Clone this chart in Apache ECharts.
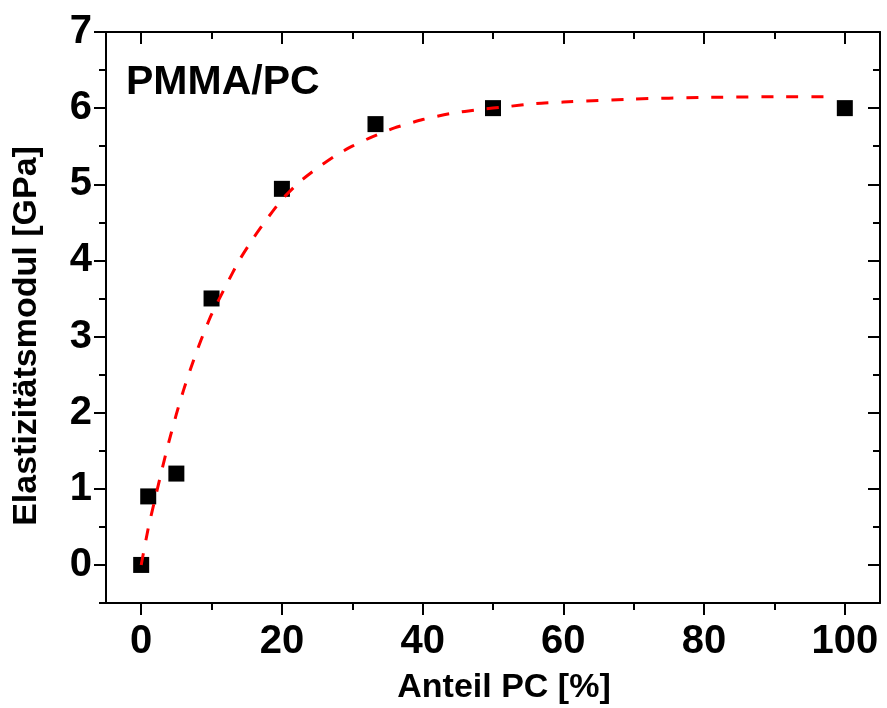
<!DOCTYPE html>
<html>
<head>
<meta charset="utf-8">
<script src="https://cdn.jsdelivr.net/npm/echarts@6/dist/echarts.min.js"></script>
<style>
  html, body { margin: 0; padding: 0; background: #fff; }
  #chart { width: 887px; height: 708px; }
</style>
</head>
<body>
<div id="chart"></div>
<script>
// Measured Young's modulus of PMMA/PC blends
const pcShare = [0, 1, 5, 10, 20, 33.3, 50, 100];
const modulus = [0, 0.9, 1.2, 3.5, 4.94, 5.79, 6.0, 6.0];

// Fitted trend (dashed red curve), sampled along the fit
const fitX = [0, 1, 2, 3, 4, 5, 6, 7, 8, 9, 10, 12, 14, 16, 18, 20, 22.5, 25, 27.5, 30,
              33, 36, 40, 44, 48, 52, 56, 60, 70, 80, 90, 98.2];
const fitY = [0, 0.48, 0.88, 1.27, 1.64, 1.98, 2.29, 2.57, 2.83, 3.07, 3.29, 3.66, 4.01, 4.30,
              4.56, 4.80, 5.03, 5.21, 5.37, 5.50, 5.63, 5.74, 5.85, 5.93, 5.98, 6.02, 6.06, 6.08,
              6.12, 6.14, 6.15, 6.15];

// Tick positions
const xMajor = [0, 20, 40, 60, 80, 100];
const xMinor = [10, 30, 50, 70, 90];
const yMajor = [0, 1, 2, 3, 4, 5, 6, 7];
const yMinor = [-0.5, 0.5, 1.5, 2.5, 3.5, 4.5, 5.5, 6.5];

const xTitle = 'Anteil PC [%]';
const yTitle = 'Elastizitätsmodul [GPa]';
const panelLabel = 'PMMA/PC';

const FONT = "'Liberation Sans', Arial, sans-serif";
const INK = '#000';

const X_RANGE = { min: -5, max: 105 };
const Y_RANGE = { min: -0.5, max: 7 };

function axisDef(range, pos, ticks, len, inside, showLine, labels, labelMargin) {
  return Object.assign({
    type: 'value', position: pos, gridIndex: 0,
    axisLine: { show: showLine, onZero: false, lineStyle: { color: INK, width: 2 } },
    axisTick: { show: true, inside: inside, length: len, customValues: ticks,
                lineStyle: { color: INK, width: 2 } },
    axisLabel: labels ? {
      show: true, customValues: ticks, margin: labelMargin,
      fontFamily: FONT, fontWeight: 'bold', fontSize: 40, color: INK
    } : { show: false },
    splitLine: { show: false }
  }, range);
}

const xMain = axisDef(X_RANGE, 'bottom', xMajor, 12, false, true, true, 19);
xMain.name = xTitle;
xMain.nameLocation = 'middle';
xMain.nameGap = 68;
xMain.nameTextStyle = { fontFamily: FONT, fontWeight: 'bold', fontSize: 34, color: INK,
                        padding: [0, 0, 0, 22] };

const yMain = axisDef(Y_RANGE, 'left', yMajor, 12, false, true, true, 14);
yMain.name = yTitle;
yMain.nameLocation = 'middle';
yMain.nameGap = 62;
yMain.nameTextStyle = { fontFamily: FONT, fontWeight: 'bold', fontSize: 34, color: INK,
                        padding: [0, 37, 0, 0] };

const option = {
  backgroundColor: '#fff',
  animation: false,
  grid: { left: 106, right: 7, top: 32, bottom: 105, containLabel: false, outerBoundsMode: 'none' },
  xAxis: [
    xMain,
    axisDef(X_RANGE, 'bottom', xMinor, 7, false, false, false),
    axisDef(X_RANGE, 'top', xMajor, 12, true, true, false),
    axisDef(X_RANGE, 'top', xMinor, 7, true, false, false)
  ],
  yAxis: [
    yMain,
    axisDef(Y_RANGE, 'left', yMinor, 7, false, false, false),
    axisDef(Y_RANGE, 'right', yMajor, 12, true, true, false),
    axisDef(Y_RANGE, 'right', yMinor, 7, true, false, false)
  ],
  graphic: [{
    type: 'text',
    left: 126,
    top: 62,
    style: { text: panelLabel, fontFamily: FONT, fontWeight: 'bold', fontSize: 41, fill: INK }
  }],
  series: [
    {
      name: 'Messwerte',
      type: 'scatter',
      xAxisIndex: 0, yAxisIndex: 0,
      symbol: 'rect',
      symbolSize: 16,
      itemStyle: { color: INK, opacity: 1 },
      z: 2,
      data: pcShare.map((x, i) => [x, modulus[i]])
    },
    {
      name: 'Fit',
      type: 'line',
      xAxisIndex: 0, yAxisIndex: 0,
      showSymbol: false,
      symbol: 'none',
      smooth: 0.2,
      lineStyle: { color: '#ff0000', width: 3, type: [12, 13], cap: 'butt' },
      z: 3,
      data: fitX.map((x, i) => [x, fitY[i]])
    }
  ]
};

const chart = echarts.init(document.getElementById('chart'), null, { renderer: 'canvas' });
chart.setOption(option);
</script>
</body>
</html>
